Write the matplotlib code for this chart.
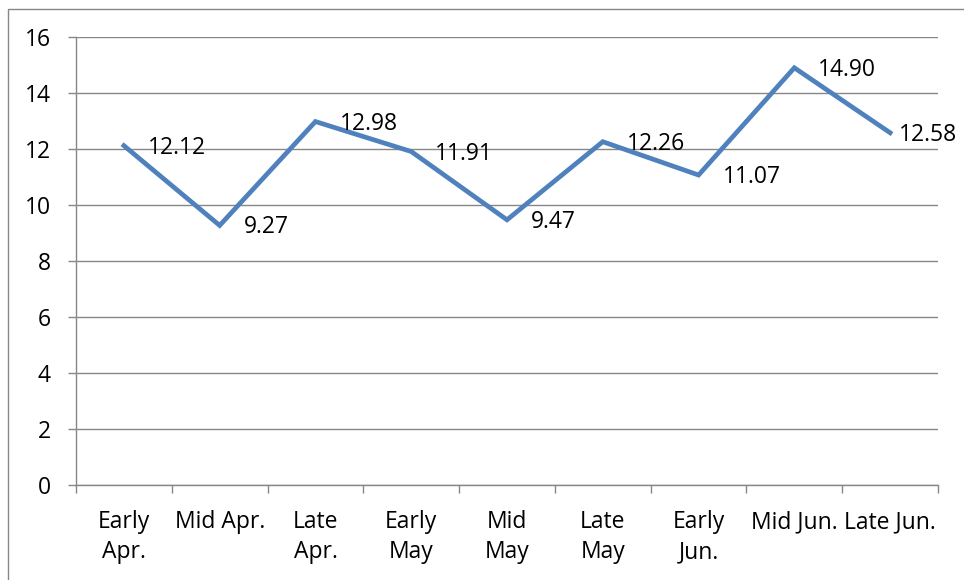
import numpy as np
import matplotlib.pyplot as plt
from matplotlib.patches import Rectangle

categories = ["Early\nApr.", "Mid Apr.", "Late\nApr.", "Early\nMay", "Mid\nMay",
              "Late\nMay", "Early\nJun.", "Mid Jun.", "Late Jun."]
values = [12.12, 9.27, 12.98, 11.91, 9.47, 12.26, 11.07, 14.90, 12.58]
yticks = [0, 2, 4, 6, 8, 10, 12, 14, 16]

plt.rcParams["font.family"] = ["Open Sans", "DejaVu Sans"]
FS = 16.5
GRID = "#878787"
LINE = "#4F81BD"

fig = plt.figure(figsize=(9.64, 5.8), dpi=100)
ax = fig.add_axes([76 / 964, 95 / 580, 862 / 964, 448 / 580])

xs = np.arange(len(categories))
ax.plot(xs, values, color=LINE, linewidth=3.4, solid_joinstyle="miter", zorder=3)
for i, (x, v) in enumerate(zip(xs, values)):
    # last label is pulled in so it stays inside the chart
    dx = 9 if i == len(values) - 1 else 24
    ax.annotate(f"{v:.2f}", (x, v), xytext=(dx, -2), textcoords="offset pixels",
                ha="left", va="center", fontsize=FS, color="black", zorder=4,
                annotation_clip=False)

ax.set_xlim(-0.5, len(categories) - 0.5)
ax.set_ylim(0, 16)
ax.set_yticks(yticks)
ax.set_yticklabels([str(t) for t in yticks])
ax.yaxis.grid(True, color=GRID, linewidth=1.0)
ax.set_axisbelow(True)

ax.set_xticks(xs)
ax.set_xticklabels(categories, linespacing=1.35)
ax.set_xticks(np.arange(-0.5, len(categories), 1.0), minor=True)
ax.tick_params(axis="x", which="major", length=0, pad=18, labelsize=FS)
ax.tick_params(axis="x", which="minor", length=6, width=1, color=GRID, direction="out")
ax.tick_params(axis="y", length=6, width=1, color=GRID, pad=12, labelsize=FS)
for lbl in ax.get_xticklabels():
    lbl.set_verticalalignment("top")

for side in ["top", "right"]:
    ax.spines[side].set_visible(False)
for side in ["left", "bottom"]:
    ax.spines[side].set_color(GRID)
    ax.spines[side].set_linewidth(1.0)

fig.patches.append(Rectangle((8 / 964, -0.1), 1.2, (580 - 9) / 580 + 0.1,
                             transform=fig.transFigure, fill=False,
                             edgecolor=GRID, linewidth=1.0))

plt.savefig("out.png", dpi=100)
plt.close()
